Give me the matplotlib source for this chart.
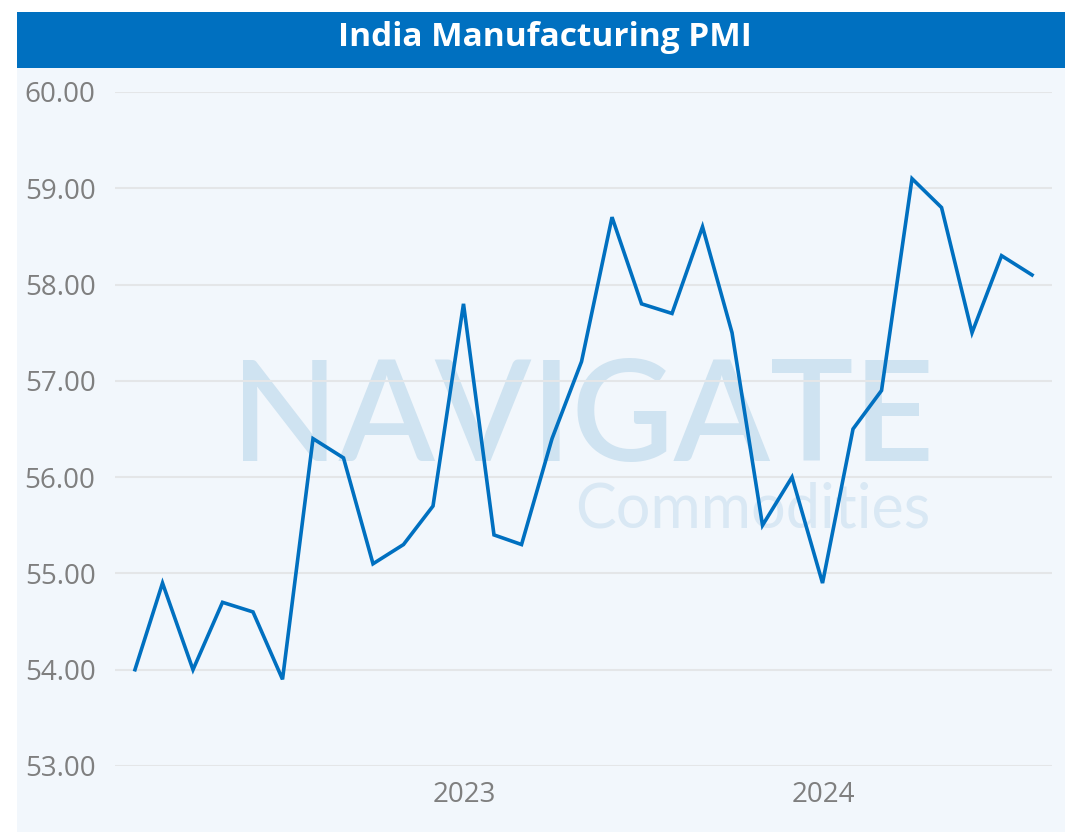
import matplotlib
matplotlib.use("Agg")
import matplotlib.pyplot as plt
import matplotlib.dates as mdates
from matplotlib.patches import Rectangle
import pandas as pd

# ---- data ----
dates = pd.date_range("2022-01-31", "2024-07-31", freq="ME")
pmi = [54.0, 54.9, 54.0, 54.7, 54.6, 53.9, 56.4, 56.2, 55.1, 55.3, 55.7, 57.8,
       55.4, 55.3, 56.4, 57.2, 58.7, 57.8, 57.7, 58.6, 57.5, 55.5, 56.0, 54.9,
       56.5, 56.9, 59.1, 58.8, 57.5, 58.3, 58.1]
title = "India Manufacturing PMI"
year_ticks = ["2023-01-01", "2024-01-01"]
year_labels = ["2023", "2024"]
y_ticks = [53, 54, 55, 56, 57, 58, 59, 60]

W, H = 1065, 832
fig = plt.figure(figsize=(W / 100, H / 100), dpi=100)
fig.patch.set_facecolor("white")

def fx(px):
    return px / W

def fy(py):
    return 1 - py / H

# panel and title bar
fig.patches.append(Rectangle((fx(17), 0), 1 - fx(17), fy(68), transform=fig.transFigure,
                             facecolor="#F2F7FC", edgecolor="none", zorder=0))
fig.patches.append(Rectangle((fx(17), fy(68)), 1 - fx(17), fy(12) - fy(68), transform=fig.transFigure,
                             facecolor="#0070C0", edgecolor="none", zorder=0))
fig.text(fx(545), fy(38), title, color="white", fontsize=24, fontweight="bold",
         family="Open Sans", ha="center", va="center")

# watermark
fig.text(fx(583), fy(461), "NAVIGATE", color="#CFE3F1", fontsize=101, family="Lato",
         fontweight="semibold", ha="center", va="baseline", zorder=1)
fig.text(fx(930), fy(528), "Commodities", color="#D9E8F4", fontsize=44, family="Lato",
         fontweight="normal", ha="right", va="baseline", zorder=1)

ax = fig.add_axes([fx(115), fy(766), fx(1052) - fx(115), fy(92) - fy(766)])
ax.set_facecolor("none")
ax.set_zorder(2)

ax.plot(dates, pmi, color="#0070C0", linewidth=2.6, solid_joinstyle="miter", zorder=3)

pad = pd.Timedelta(days=20.3)
ax.set_xlim(dates[0] - pad, dates[-1] + pad)
ax.set_ylim(53, 60)
ax.set_yticks(y_ticks)
ax.set_yticklabels([f"{v:.2f}" for v in y_ticks])
ax.set_xticks([pd.Timestamp(d) for d in year_ticks])
ax.set_xticklabels(year_labels)

ax.grid(axis="y", color="#E4E6E8", linewidth=1.5)
ax.set_axisbelow(True)
for s in ax.spines.values():
    s.set_visible(False)
ax.tick_params(axis="y", length=0, pad=14, labelsize=20, labelcolor="#7F7F7F")
ax.tick_params(axis="x", length=0, pad=11, labelsize=20, labelcolor="#7F7F7F")
for lab in ax.get_xticklabels() + ax.get_yticklabels():
    lab.set_family("Open Sans")

fig.savefig("out.png", dpi=100)
